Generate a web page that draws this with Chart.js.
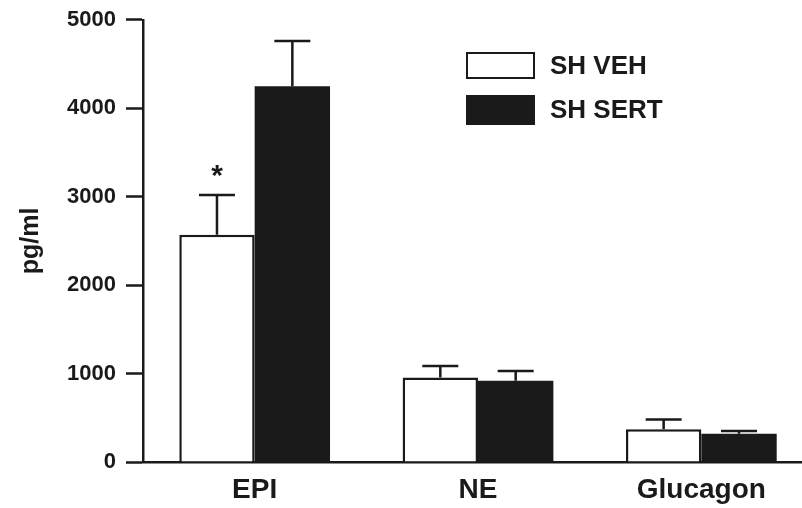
<!DOCTYPE html>
<html>
<head>
<meta charset="utf-8">
<script src="https://cdn.jsdelivr.net/npm/chart.js@4"></script>
<style>
    html, body { margin: 0; padding: 0; background: #fff; overflow: hidden; }
    #wrap { width: 802px; height: 508px; overflow: hidden; }
</style>
</head>
<body>
<div id="wrap"><canvas id="chart" width="813" height="508"></canvas></div>
<script>
const categories = ["EPI", "NE", "Glucagon"];
const seriesNames = ["SH VEH", "SH SERT"];
const vehValues = [2570, 955, 370];
const vehErrors = [450, 130, 110];
const sertValues = [4250, 920, 320];
const sertErrors = [510, 110, 30];
const yTicks = [0, 1000, 2000, 3000, 4000, 5000];
const starred = [{ dataset: 0, index: 0, label: "*" }];

const ink = "#1a1a1a";
const fontFamily = "'Liberation Sans', Arial, sans-serif";

// upper-only error bars plus the significance star
const errorBars = {
    id: "errorBars",
    afterDatasetsDraw(chart) {
        const ctx = chart.ctx;
        const y = chart.scales.y;
        const errs = [vehErrors, sertErrors];
        ctx.save();
        ctx.strokeStyle = ink;
        ctx.lineWidth = 2.5;
        chart.data.datasets.forEach((ds, di) => {
            chart.getDatasetMeta(di).data.forEach((bar, i) => {
                const top = y.getPixelForValue(ds.data[i]);
                const hi = y.getPixelForValue(ds.data[i] + errs[di][i]);
                ctx.beginPath();
                ctx.moveTo(bar.x, top);
                ctx.lineTo(bar.x, hi);
                ctx.moveTo(bar.x - 18, hi);
                ctx.lineTo(bar.x + 18, hi);
                ctx.stroke();
            });
        });
        ctx.fillStyle = ink;
        ctx.font = "bold 30px " + fontFamily;
        ctx.textAlign = "center";
        ctx.textBaseline = "middle";
        starred.forEach(s => {
            const bar = chart.getDatasetMeta(s.dataset).data[s.index];
            const ds = chart.data.datasets[s.dataset];
            const hi = y.getPixelForValue(ds.data[s.index] + errs[s.dataset][s.index]);
            ctx.fillText(s.label, bar.x, hi - 18);
        });
        ctx.restore();
    }
};

// legend drawn inside the plot, boxes left of labels
const boxLegend = {
    id: "boxLegend",
    afterDraw(chart) {
        const ctx = chart.ctx;
        ctx.save();
        ctx.font = "bold 26px " + fontFamily;
        ctx.textBaseline = "middle";
        chart.data.datasets.forEach((ds, i) => {
            const bx = 467, by = 53 + i * 43, bw = 67, bh = 25 + i * 3;
            ctx.fillStyle = ds.backgroundColor;
            ctx.fillRect(bx, by, bw, bh);
            ctx.strokeStyle = ink;
            ctx.lineWidth = 2;
            ctx.strokeRect(bx, by, bw, bh);
            ctx.fillStyle = ink;
            ctx.fillText(ds.label, 550, by + bh / 2 + 1);
        });
        ctx.restore();
    }
};

new Chart(document.getElementById("chart"), {
    type: "bar",
    data: {
        labels: categories,
        datasets: [
            {
                label: seriesNames[0],
                data: vehValues,
                backgroundColor: "#ffffff",
                borderColor: ink,
                borderWidth: 2.5
            },
            {
                label: seriesNames[1],
                data: sertValues,
                backgroundColor: ink,
                borderColor: ink,
                borderWidth: 0
            }
        ]
    },
    options: {
        responsive: false,
        animation: false,
        events: [],
        categoryPercentage: 0.675,
        barPercentage: 1.0,
        layout: { padding: { top: 19, right: 0, bottom: 0, left: 0 } },
        plugins: {
            legend: { display: false },
            tooltip: { enabled: false }
        },
        scales: {
            x: {
                grid: { display: false, drawTicks: false },
                border: { display: true, color: ink, width: 2.5 },
                ticks: {
                    color: ink,
                    padding: 11,
                    font: { family: fontFamily, size: 28, weight: "bold" }
                },
                afterFit(scale) { scale.height = 46; }
            },
            y: {
                min: 0,
                max: 5000,
                afterBuildTicks(scale) {
                    scale.ticks = yTicks.map(v => ({ value: v }));
                },
                grid: {
                    drawOnChartArea: false,
                    drawTicks: true,
                    tickLength: 17,
                    tickWidth: 2.5,
                    color: ink
                },
                border: { display: true, color: ink, width: 2.5 },
                ticks: {
                    color: ink,
                    padding: 10,
                    callback: v => String(v),
                    font: { family: fontFamily, size: 22, weight: "bold", lineHeight: 0.9 }
                },
                title: {
                    display: true,
                    text: "pg/ml",
                    color: ink,
                    padding: { top: 16, bottom: 0 },
                    font: { family: fontFamily, size: 25, weight: "bold" }
                },
                afterFit(scale) { scale.width = 143; }
            }
        }
    },
    plugins: [errorBars, boxLegend]
});
</script>
</body>
</html>
